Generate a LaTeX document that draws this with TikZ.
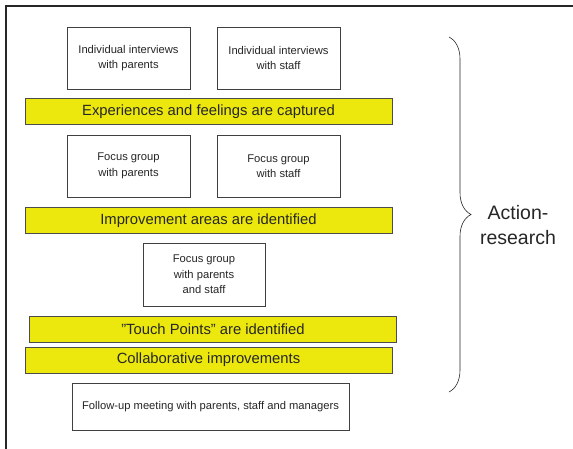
\documentclass[tikz,border=0pt]{standalone}
\usepackage{fontspec}
\setmainfont{Liberation Sans}
\usepackage{xcolor}
\usetikzlibrary{decorations.pathreplacing}
\definecolor{barfill}{RGB}{236,232,14}
\tikzset{
	stepbox/.style={draw=black!75,fill=white,align=center,text=black!85,
			font=\fontsize{11.2}{15.5}\selectfont,inner sep=0pt},
	resultbar/.style={draw=black!70,fill=barfill,text=black!85,
			font=\fontsize{14.8}{17}\selectfont,inner sep=0pt,
			minimum width=367pt,minimum height=26pt}
}

\begin{document}
\begin{tikzpicture}[x=1pt,y=-1pt]
	\useasboundingbox (0,0) rectangle (573,449);
	% frame
	\draw[line width=1.4pt,black!85] (6,449) -- (6,6) -- (573,6);

	% interviews
	\node[stepbox,minimum width=123pt,minimum height=62pt] (intpar) at (128.5,58) {Individual interviews\\with parents};
	\node[stepbox,minimum width=123pt,minimum height=62pt] (intstaff) at (278.5,58) {Individual interviews\\with staff};
	\node[resultbar] (captured) at (208.5,111.5) {Experiences and feelings are captured};

	% focus groups
	\node[stepbox,minimum width=123pt,minimum height=62pt] (fgpar) at (128.5,166) {Focus group\\with parents};
	\node[stepbox,minimum width=123pt,minimum height=62pt] (fgstaff) at (278.5,166) {Focus group\\with staff};
	\node[resultbar] (areas) at (208.5,220.5) {Improvement areas are identified};

	% joint focus group
	\node[stepbox,minimum width=122pt,minimum height=63pt] (fgboth) at (204,274.5) {Focus group\\with parents\\and staff};
	\node[resultbar] (touch) at (213,329) {"Touch Points" are identified};
	\node[resultbar] (collab) at (208.5,360) {Collaborative improvements};

	% follow-up
	\node[stepbox,minimum width=277pt,minimum height=47pt] (follow) at (210.5,406.5) {Follow-up meeting with parents, staff and managers};

	% brace
	\coordinate (bracetop) at (449,37);
	\coordinate (bracebot) at (449,392);
	\draw[black!85,line width=0.6pt,decorate,decoration={brace,amplitude=22pt}] (bracetop) -- (bracebot);
	\node[align=center,text=black!85,font=\fontsize{19.5}{25}\selectfont] (action) at (518,225) {Action-\\research};
\end{tikzpicture}
\end{document}
